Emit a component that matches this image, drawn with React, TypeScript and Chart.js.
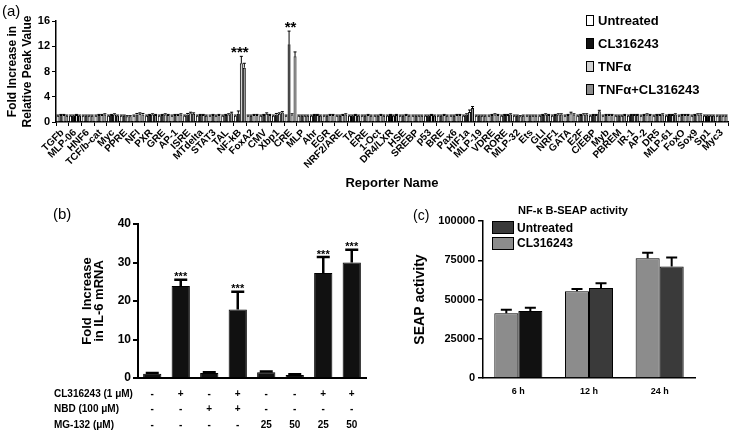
import React, { useEffect, useRef } from "react";
import { Chart, registerables } from "chart.js";

Chart.register(...registerables);

const FONT = "'Liberation Sans', Arial, Helvetica, sans-serif";

// ---------------- Panel (a) data ----------------
const reporters = ["TGFb","MLP-06","HNF6","TCF/b-cat","Myc","PPRE","NFI","PXR","GRE","AP-1","ISRE","MTdelta","STAT3","TAL","NF-kB","FoxA2","CMV","Xbp1","CRE","MLP","Ahr","EGR","NRF2/ARE","TA","ERE","1-Oct","DR4/LXR","HSE","SREBP","p53","BRE","Pax6","HIF1a","MLP-19","VDRE","RORE","MLP-32","Ets","GLI","NRF1","GATA","E2F","C/EBP","Myb","PBREM","IR-1","AP-2","DR5","MLP-61","FoxO","Sox9","Sp1","Myc3"];
const seriesLabelsA = ["Untreated", "CL316243", "TNFα", "TNFα+CL316243"];
const aUntreated = [1.0,1.0,1.0,1.0,1.0,1.0,1.0,1.0,1.0,1.0,1.0,1.0,1.0,1.0,1.0,1.0,1.0,1.0,1.0,1.0,1.0,1.0,1.0,1.0,1.0,1.0,1.0,1.0,1.0,1.0,1.0,1.0,1.0,1.0,1.0,1.0,1.0,1.0,1.0,1.0,1.0,1.0,1.0,1.0,1.0,1.0,1.0,1.0,1.0,1.0,1.0,1.0,1.0];
const aUntreatedErr = [0.1,0.1,0.1,0.1,0.1,0.1,0.1,0.1,0.1,0.1,0.1,0.1,0.1,0.1,0.1,0.1,0.1,0.1,0.1,0.1,0.1,0.1,0.1,0.1,0.1,0.1,0.1,0.1,0.1,0.1,0.1,0.1,0.1,0.1,0.1,0.1,0.1,0.1,0.1,0.1,0.1,0.1,0.1,0.1,0.1,0.1,0.1,0.1,0.1,0.1,0.1,0.1,0.1];
const aCL = [1.1,1.0,1.0,1.1,1.1,1.0,1.2,1.1,1.1,1.1,1.2,1.1,1.1,1.1,1.3,1.0,1.1,1.2,12.3,1.0,1.1,1.0,1.0,1.0,1.0,1.0,1.1,1.0,1.0,1.0,1.0,1.0,1.2,1.0,1.1,1.1,1.0,1.0,1.1,1.1,1.1,1.1,1.1,1.1,1.0,1.1,1.1,1.1,1.1,1.1,1.1,1.0,1.0];
const aCLErr = [0.1,0.1,0.1,0.1,0.1,0.1,0.15,0.1,0.1,0.1,0.15,0.1,0.1,0.1,0.45,0.1,0.1,0.15,2.1,0.1,0.1,0.1,0.1,0.1,0.1,0.1,0.1,0.1,0.1,0.1,0.1,0.1,0.1,0.1,0.1,0.1,0.1,0.1,0.1,0.1,0.1,0.1,0.1,0.1,0.1,0.1,0.1,0.1,0.1,0.1,0.1,0.1,0.1];
const aTNF = [1.1,1.1,1.0,1.1,1.2,0.9,1.3,1.2,1.2,1.1,1.4,1.1,1.0,1.2,9.3,1.1,1.3,1.3,1.2,1.0,1.1,1.1,1.1,1.1,1.1,1.1,1.0,1.1,1.0,1.1,1.1,1.1,1.6,1.0,1.2,1.1,0.9,1.0,1.2,1.2,1.4,1.2,1.1,1.1,1.0,1.1,1.2,1.1,1.1,1.1,1.2,1.0,1.0];
const aTNFErr = [0.1,0.1,0.1,0.1,0.1,0.1,0.15,0.1,0.1,0.1,0.15,0.1,0.1,0.1,1.1,0.1,0.15,0.15,0.1,0.1,0.1,0.1,0.1,0.1,0.1,0.1,0.1,0.1,0.1,0.1,0.1,0.1,0.3,0.1,0.1,0.1,0.1,0.1,0.1,0.1,0.15,0.1,0.1,0.1,0.1,0.1,0.1,0.1,0.1,0.1,0.1,0.1,0.1];
const aTNFCL = [1.0,1.0,1.0,1.2,1.0,0.9,1.2,1.1,1.1,1.2,1.3,1.0,1.1,1.4,8.6,1.1,1.1,1.5,10.4,1.0,1.0,1.1,1.2,1.0,1.0,1.0,1.1,1.0,1.0,1.0,1.0,1.1,2.2,1.0,1.1,1.2,1.0,1.0,1.1,1.2,1.2,1.2,1.7,1.1,1.1,1.1,1.1,1.2,1.2,1.1,1.2,1.0,1.0];
const aTNFCLErr = [0.1,0.1,0.1,0.1,0.1,0.1,0.15,0.1,0.1,0.1,0.15,0.1,0.1,0.15,0.7,0.1,0.1,0.15,0.7,0.1,0.1,0.1,0.1,0.1,0.1,0.1,0.1,0.1,0.1,0.1,0.1,0.1,0.25,0.1,0.1,0.1,0.1,0.1,0.1,0.1,0.1,0.1,0.15,0.1,0.1,0.1,0.1,0.1,0.1,0.1,0.1,0.1,0.1];
const aStars = ["","","","","","","","","","","","","","","***","","","","**","","","","","","","","","","","","","","","","","","","","","","","","","","","","","","","","","",""];
const aColors = ["#ffffff", "#111111", "#d2d2d2", "#8c8c8c"];
const aYTicks = [0, 4, 8, 12, 16];

// ---------------- Panel (b) data ----------------
const bConditions = ["1", "2", "3", "4", "5", "6", "7", "8"];
const bValues = [1.1, 23.9, 1.3, 17.8, 1.5, 0.8, 27.3, 30.0];
const bErrors = [0.2, 1.6, 0.2, 4.6, 0.2, 0.2, 4.1, 3.3];
const bStars = ["", "***", "", "***", "", "", "***", "***"];
const bRowCL = ["-", "+", "-", "+", "-", "-", "+", "+"];
const bRowNBD = ["-", "-", "+", "+", "-", "-", "-", "-"];
const bRowMG = ["-", "-", "-", "-", "25", "50", "25", "50"];
const bRowLabels = ["CL316243 (1 μM)", "NBD (100 μM)", "MG-132 (μM)"];

// ---------------- Panel (c) data ----------------
const cTimes = ["6 h", "12 h", "24 h"];
const cCL = [41200, 55200, 76300];
const cCLErr = [2200, 1500, 3500];
const cUntreated = [42700, 57300, 71000];
const cUntreatedErr = [2000, 3000, 5800];
const cUntreatedColors = ["#111111", "#3a3a3a", "#3a3a3a"];

// ---------------- plugins ----------------
const errorBarPlugin = {
  id: "errorBars",
  afterDatasetsDraw(chart: any, _a: any, opts: any) {
    const { ctx } = chart;
    const y = chart.scales.y;
    chart.data.datasets.forEach((ds: any, di: number) => {
      if (!ds.errors) return;
      const meta = chart.getDatasetMeta(di);
      ctx.save();
      ctx.strokeStyle = "#000";
      ctx.lineWidth = opts.lineWidth || 1;
      meta.data.forEach((bar: any, i: number) => {
        const v = ds.data[i];
        const e = ds.errors[i];
        if (!e) return;
        const yTop = y.getPixelForValue(v + e);
        const yBar = y.getPixelForValue(v);
        const cap = opts.capWidth != null ? opts.capWidth : bar.width;
        ctx.beginPath();
        ctx.moveTo(bar.x, yBar);
        ctx.lineTo(bar.x, yTop);
        ctx.moveTo(bar.x - cap / 2, yTop);
        ctx.lineTo(bar.x + cap / 2, yTop);
        ctx.stroke();
      });
      ctx.restore();
    });
  },
};

const starsPlugin = {
  id: "stars",
  afterDatasetsDraw(chart: any, _a: any, opts: any) {
    if (!opts.stars) return;
    const { ctx } = chart;
    const x = chart.scales.x;
    const y = chart.scales.y;
    ctx.save();
    ctx.font = opts.font;
    ctx.fillStyle = "#000";
    ctx.textAlign = "center";
    ctx.textBaseline = "alphabetic";
    opts.stars.forEach((s: string, i: number) => {
      if (!s) return;
      let top = Infinity;
      chart.data.datasets.forEach((ds: any) => {
        const v = ds.data[i] + (ds.errors ? ds.errors[i] : 0);
        top = Math.min(top, y.getPixelForValue(v));
      });
      ctx.fillText(s, x.getPixelForValue(i), top - opts.gap + opts.size * 0.56);
    });
    ctx.restore();
  },
};

const tablePlugin = {
  id: "conditionTable",
  afterDraw(chart: any, _a: any, opts: any) {
    if (!opts.rows) return;
    const { ctx } = chart;
    const x = chart.scales.x;
    ctx.save();
    ctx.font = opts.font;
    ctx.fillStyle = "#000";
    ctx.textBaseline = "middle";
    opts.rows.forEach((row: any, r: number) => {
      const yy = chart.chartArea.bottom + opts.firstOffset + r * opts.rowGap;
      ctx.textAlign = "left";
      ctx.fillText(row.label, opts.labelX, yy);
      ctx.textAlign = "center";
      row.values.forEach((v: string, i: number) => ctx.fillText(v, x.getPixelForValue(i), yy));
    });
    ctx.restore();
  },
};

Chart.register(errorBarPlugin, starsPlugin, tablePlugin);

function useChart(ref: React.RefObject<HTMLCanvasElement>, makeConfig: () => any) {
  useEffect(() => {
    if (!ref.current) return;
    const c = new Chart(ref.current, makeConfig());
    return () => c.destroy();
  }, []);
}

const blackTicks = (size: number) => ({ color: "#000", font: { family: FONT, size, weight: "bold" as const } });

export default function App() {
  const aRef = useRef<HTMLCanvasElement>(null);
  const bRef = useRef<HTMLCanvasElement>(null);
  const cRef = useRef<HTMLCanvasElement>(null);

  useChart(aRef, () => ({
    type: "bar",
    data: {
      labels: reporters,
      datasets: [
        { label: seriesLabelsA[0], data: aUntreated, errors: aUntreatedErr, backgroundColor: aColors[0] },
        { label: seriesLabelsA[1], data: aCL, errors: aCLErr, backgroundColor: aColors[1] },
        { label: seriesLabelsA[2], data: aTNF, errors: aTNFErr, backgroundColor: aColors[2] },
        { label: seriesLabelsA[3], data: aTNFCL, errors: aTNFCLErr, backgroundColor: aColors[3] },
      ].map((d) => ({ ...d, borderColor: "#000", borderWidth: 1, barPercentage: 1, categoryPercentage: 0.94 })),
    },
    options: {
      responsive: false,
      animation: false,
      layout: { padding: { left: 0, right: 4, top: 21, bottom: 0 } },
      plugins: {
        legend: { display: false },
        tooltip: { enabled: false },
        errorBars: { lineWidth: 1, capWidth: 3 },
        stars: { stars: aStars, font: `bold 15px ${FONT}`, size: 15, gap: 7.5 },
      },
      scales: {
        x: {
          grid: { display: true, drawOnChartArea: false, drawTicks: true, tickLength: 4, color: "#000", offset: true },
          border: { display: true, color: "#000", width: 1.5 },
          ticks: { ...blackTicks(10), autoSkip: false, minRotation: 45, maxRotation: 45, padding: 1 },
          title: { display: true, text: "Reporter Name", color: "#000", font: { family: FONT, size: 13, weight: "bold" }, padding: { top: 0, bottom: 4 } },
          afterFit: (s: any) => { s.height = 73; },
        },
        y: {
          min: 0,
          max: 16,
          afterBuildTicks: (s: any) => { s.ticks = aYTicks.map((v) => ({ value: v })); },
          grid: { display: true, drawOnChartArea: false, tickLength: 4, color: "#000" },
          border: { display: true, color: "#000", width: 1.5 },
          ticks: { ...blackTicks(11), padding: 2 },
          title: { display: true, text: ["Fold Increase in", "Relative Peak Value"], color: "#000", font: { family: FONT, size: 12, weight: "bold", lineHeight: 1.25 }, padding: { top: 5.5, bottom: 0 } },
          afterFit: (s: any) => { s.width = 56; },
        },
      },
    },
  }));

  useChart(bRef, () => ({
    type: "bar",
    data: {
      labels: bConditions,
      datasets: [
        { label: "IL-6 mRNA", data: bValues, errors: bErrors, backgroundColor: "#111111", borderColor: "#000", borderWidth: 1, barPercentage: 0.64, categoryPercentage: 1 },
      ],
    },
    options: {
      responsive: false,
      animation: false,
      layout: { padding: { left: 78, right: 34, top: 29, bottom: 0 } },
      plugins: {
        legend: { display: false },
        tooltip: { enabled: false },
        errorBars: { lineWidth: 2.5, capWidth: 13 },
        stars: { stars: bStars, font: `bold 11px ${FONT}`, size: 11, gap: 5.5 },
        conditionTable: {
          font: `bold 10px ${FONT}`,
          labelX: 54,
          firstOffset: 16,
          rowGap: 15.5,
          rows: [
            { label: bRowLabels[0], values: bRowCL },
            { label: bRowLabels[1], values: bRowNBD },
            { label: bRowLabels[2], values: bRowMG },
          ],
        },
      },
      scales: {
        x: {
          grid: { display: false },
          border: { display: true, color: "#000", width: 2 },
          ticks: { display: false },
          afterFit: (s: any) => { s.height = 57; },
        },
        y: {
          min: 0,
          max: 40,
          ticks: { ...blackTicks(12), stepSize: 10, padding: 2 },
          grid: { display: true, drawOnChartArea: false, tickLength: 5, color: "#000", lineWidth: 2 },
          border: { display: true, color: "#000", width: 2 },
          title: { display: true, text: ["Fold  Increase", "in IL-6 mRNA"], color: "#000", font: { family: FONT, size: 13, weight: "bold", lineHeight: 0.9 }, padding: { top: 4, bottom: 0 } },
          afterFit: (s: any) => { s.width = 60; },
        },
      },
    },
  }));

  useChart(cRef, () => ({
    type: "bar",
    data: {
      labels: cTimes,
      datasets: [
        { label: "CL316243", data: cCL, errors: cCLErr, backgroundColor: "#8c8c8c" },
        { label: "Untreated", data: cUntreated, errors: cUntreatedErr, backgroundColor: cUntreatedColors },
      ].map((d) => ({ ...d, borderColor: "#000", borderWidth: 1, barPercentage: 1, categoryPercentage: 0.68 })),
    },
    options: {
      responsive: false,
      animation: false,
      layout: { padding: { left: 0, right: 37, top: 26, bottom: 0 } },
      plugins: {
        legend: { display: false },
        tooltip: { enabled: false },
        errorBars: { lineWidth: 2, capWidth: 11 },
      },
      scales: {
        x: {
          grid: { display: false, drawTicks: false },
          border: { display: true, color: "#000", width: 1.5 },
          ticks: { ...blackTicks(9), padding: 8 },
          afterFit: (s: any) => { s.height = 57; },
        },
        y: {
          min: 0,
          max: 100000,
          ticks: { ...blackTicks(11), stepSize: 25000, padding: 3, callback: (v: any) => String(v) },
          grid: { display: true, drawOnChartArea: false, tickLength: 5, color: "#000", lineWidth: 1.5 },
          border: { display: true, color: "#000", width: 1.5 },
          title: { display: true, text: "SEAP activity", color: "#000", font: { family: FONT, size: 14, weight: "bold" }, padding: { top: 11.5, bottom: 0 } },
          afterFit: (s: any) => { s.width = 83; },
        },
      },
    },
  }));

  const abs = (extra: React.CSSProperties): React.CSSProperties => ({ position: "absolute", ...extra });

  return (
    <div style={{ position: "fixed", left: 0, top: 0, width: 732, height: 435, background: "#fff", fontFamily: FONT, color: "#000", overflow: "hidden" }}>
      <canvas ref={aRef} width={732} height={195} style={abs({ left: 0, top: 0 })} />
      <canvas ref={bRef} width={400} height={240} style={abs({ left: 0, top: 195 })} />
      <canvas ref={cRef} width={332} height={240} style={abs({ left: 400, top: 195 })} />

      <div style={abs({ left: 2, top: 2, fontSize: 15, lineHeight: "18px" })}>(a)</div>
      <div style={abs({ left: 53, top: 205, fontSize: 15, lineHeight: "18px" })}>(b)</div>
      <div style={abs({ left: 413, top: 206, fontSize: 14, lineHeight: "18px" })}>(c)</div>

      {seriesLabelsA.map((l, i) => (
        <div key={l} style={abs({ left: 586, top: 13 + i * 23.1, height: 14, display: "flex", alignItems: "center", fontWeight: "bold", fontSize: 13, whiteSpace: "nowrap" })}>
          <span style={{ display: "inline-block", width: 8, height: 11, border: "1.5px solid #000", background: aColors[i], boxSizing: "border-box" }} />
          <span style={{ marginLeft: 4 }}>{l}</span>
        </div>
      ))}

      <div style={abs({ left: 500, top: 203, width: 146, textAlign: "center", fontWeight: "bold", fontSize: 11, lineHeight: "14px", whiteSpace: "nowrap" })}>NF-κ B-SEAP activity</div>
      {[{ l: "Untreated", c: "#3a3a3a" }, { l: "CL316243", c: "#8c8c8c" }].map((it, i) => (
        <div key={it.l} style={abs({ left: 492, top: 221 + i * 15.5, height: 13, display: "flex", alignItems: "center", fontWeight: "bold", fontSize: 12, whiteSpace: "nowrap" })}>
          <span style={{ display: "inline-block", width: 22, height: 13, border: "1px solid #000", background: it.c, boxSizing: "border-box" }} />
          <span style={{ marginLeft: 3 }}>{it.l}</span>
        </div>
      ))}
    </div>
  );
}
